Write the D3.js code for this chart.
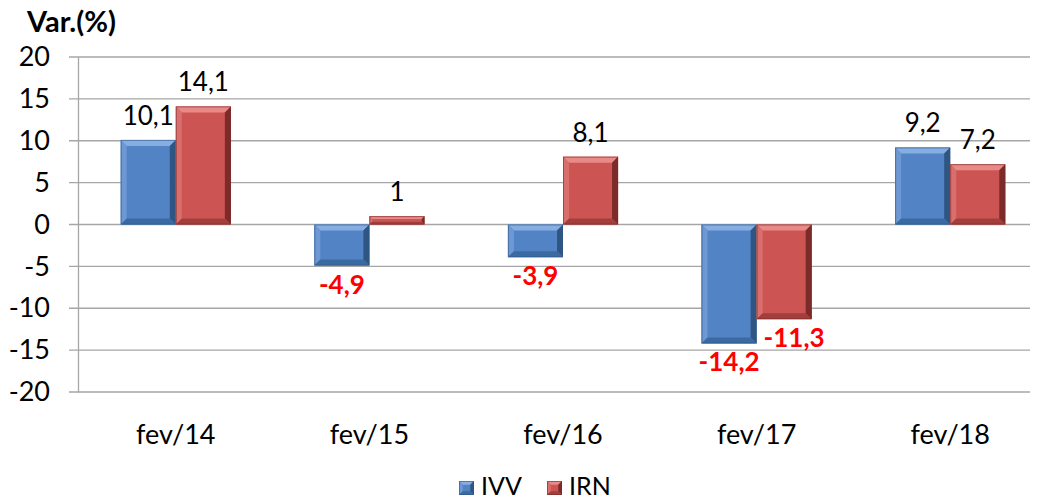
<!doctype html>
<html>
<head>
<meta charset="utf-8" />
<title>Var.(%)</title>
<script src="https://cdn.jsdelivr.net/npm/d3@7"></script>
<style>
  html,body{margin:0;padding:0;background:#fff;}
  svg{display:block;font-family:Lato,"Open Sans",sans-serif;}
</style>
</head>
<body>
<svg id="chart" width="1038" height="499"></svg>
<script>
// data
var categories = ["fev/14","fev/15","fev/16","fev/17","fev/18"];
var series = ["IVV","IRN"];
var ivv = [10.1,-4.9,-3.9,-14.2,9.2];
var irn = [14.1,1,8.1,-11.3,7.2];
var yTicks = [-20,-15,-10,-5,0,5,10,15,20];

var colors = {
  IVV:{face:"#5283c4",light:"#86aee3",lite2:"#6d98d3",dark:"#2f5683",dark2:"#3b6aa3"},
  IRN:{face:"#cc5553",light:"#e88a88",lite2:"#d96f6d",dark:"#7a2b2a",dark2:"#a23e3c"}
};

var svg = d3.select("#chart");
var mLeft = 78, mRight = 1030, mTop = 57, mBottom = 392;
var font = "Lato,'Open Sans',sans-serif";

var y = d3.scaleLinear().domain([-20,20]).range([mBottom,mTop]);
// bar groups sit a little right of the plot area, like the original
var x0 = d3.scaleBand().domain(categories).range([79,1047]).paddingInner(0.431).paddingOuter(0.2155);
var x1 = d3.scaleBand().domain(series).range([0,x0.bandwidth()]);

// grid
svg.append("g").selectAll("line").data(yTicks).join("line")
  .attr("x1",69).attr("x2",mRight)
  .attr("y1",function(d){return y(d);}).attr("y2",function(d){return y(d);})
  .attr("stroke","#a6a6a6").attr("stroke-width",1.3);

// y axis
var yAxis = svg.append("g").attr("transform","translate("+mLeft+",0)")
  .call(d3.axisLeft(y).tickValues(yTicks).tickFormat(function(d){return String(d);}).tickSize(0).tickPadding(28));
yAxis.select(".domain").attr("stroke","#a6a6a6").attr("stroke-width",1.3);
yAxis.selectAll("text").attr("font-size","27px").attr("fill","#000").attr("font-family",font);

// x labels
var xAxis = svg.append("g").attr("transform","translate(0,"+mBottom+")")
  .call(d3.axisBottom(x0).tickSize(0).tickPadding(33));
xAxis.select(".domain").remove();
xAxis.selectAll("text").attr("font-size","27px").attr("fill","#000").attr("font-family",font);

// title
svg.append("text").attr("x",27).attr("y",32).text("Var.(%)")
  .attr("font-size","29px").attr("font-weight","bold");

function bevelBar(g, bx, by, w, h, c){
  var b = Math.min(6, w/4, h/3);
  if (h < 3) b = 0;
  g.append("rect").attr("x",bx).attr("y",by).attr("width",w).attr("height",h).attr("fill",c.face);
  if (b > 0) {
    var pts = function(a){return a.map(function(p){return p.join(",");}).join(" ");};
    g.append("polygon").attr("points",pts([[bx,by],[bx+w,by],[bx+w-b,by+b],[bx+b,by+b]])).attr("fill",c.light);
    g.append("polygon").attr("points",pts([[bx,by],[bx+b,by+b],[bx+b,by+h-b],[bx,by+h]])).attr("fill",c.lite2);
    g.append("polygon").attr("points",pts([[bx+w,by],[bx+w,by+h],[bx+w-b,by+h-b],[bx+w-b,by+b]])).attr("fill",c.dark);
    g.append("polygon").attr("points",pts([[bx,by+h],[bx+b,by+h-b],[bx+w-b,by+h-b],[bx+w,by+h]])).attr("fill",c.dark2);
  }
  g.append("rect").attr("x",bx+0.5).attr("y",by+0.5).attr("width",Math.max(0,w-1)).attr("height",Math.max(0,h-1))
    .attr("fill","none").attr("stroke",c.dark).attr("stroke-width",1).attr("stroke-opacity",0.6);
}

var bars = svg.append("g");
var labels = svg.append("g");
var vals = {IVV:ivv, IRN:irn};
categories.forEach(function(cat,i){
  series.forEach(function(s,k){
    var v = vals[s][i];
    var bx = x0(cat) + x1(s);
    var w = x1.bandwidth();
    var yt = y(Math.max(v,0)), yb = y(Math.min(v,0));
    bevelBar(bars.append("g"), bx, yt, w, yb-yt, colors[s]);
    var txt = String(v).replace(".",",");
    var t = labels.append("text").attr("x",bx+w/2).attr("text-anchor","middle").text(txt).attr("font-size","26px");
    if (v >= 0) {
      t.attr("y",yt-15).attr("fill","#000");
    } else {
      t.attr("y",yb+28).attr("fill","#ff0000").attr("font-weight","bold");
      // push the label clear of a deeper neighbouring bar on the left
      if (k > 0) {
        var prev = vals[series[k-1]][i];
        if (prev < v) {
          var half = t.node().getComputedTextLength()/2;
          var minX = bx + 7 + half;
          if (bx + w/2 < minX) t.attr("x", minX);
        }
      }
    }
  });
});

// legend
var leg = svg.append("g");
var lx = [459, 547];
series.forEach(function(s,i){
  bevelBar(leg.append("g"), lx[i], 481, 15, 14, colors[s]);
  leg.append("text").attr("x",lx[i]+22).attr("y",495).text(s).attr("font-size","25px").attr("fill","#000");
});
</script>
</body>
</html>
